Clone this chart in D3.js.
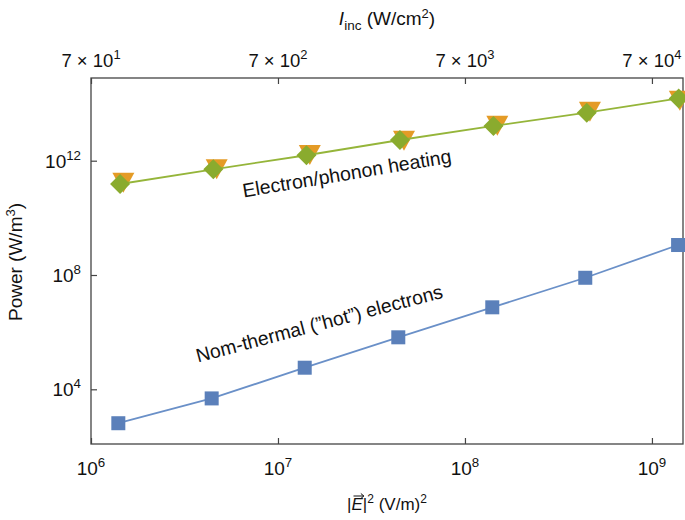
<!DOCTYPE html>
<html>
<head>
<meta charset="utf-8">
<script src="https://cdn.jsdelivr.net/npm/d3@7"></script>
<style>
  html, body { margin: 0; padding: 0; background: #fff; }
  svg { display: block; font-family: "Liberation Sans", Arial, Helvetica, sans-serif; }
</style>
</head>
<body>
<svg id="chart" width="685" height="520"></svg>
<script>
// ---- data ----
const hotX = [1.40e6, 4.42e6, 1.39e7, 4.40e7, 1.40e8, 4.40e8, 1.38e9];
const hotY = [6.5e2, 4.8e3, 5.7e4, 6.6e5, 7.4e6, 8.0e7, 1.12e9];
const heatDiamondX = [1.43e6, 4.51e6, 1.42e7, 4.49e7, 1.42e8, 4.48e8, 1.39e9];
const heatDiamondY = [1.53e11, 5.0e11, 1.55e12, 5.3e12, 1.64e13, 4.8e13, 1.51e14];
const heatTriX = [1.49e6, 4.70e6, 1.48e7, 4.72e7, 1.49e8, 4.66e8, 1.41e9];
const heatTriY = [2.2e11, 6.5e11, 2.07e12, 6.5e12, 2.19e13, 6.8e13, 1.64e14];
const xTicks = [1e6, 1e7, 1e8, 1e9];
const xTickExp = ["6", "7", "8", "9"];
const topTicks = [7e1, 7e2, 7e3, 7e4];
const topTickExp = ["1", "2", "3", "4"];
const yTicks = [1e4, 1e8, 1e12];
const yTickExp = ["4", "8", "12"];
const xDomain = [1e6, 1.466e9];
const yDomain = [Math.pow(10, 2.086), Math.pow(10, 14.894)];
const intensityFactor = 7e-5; // I_inc = 7e-5 * |E|^2

// ---- layout ----
const W = 685, H = 520;
const m = { left: 91, right: 2, top: 78, bottom: 76 };
const svg = d3.select("#chart");
const x = d3.scaleLog().domain(xDomain).range([m.left, W - m.right]);
const xTop = d3.scaleLog().domain(xDomain.map(d => d * intensityFactor)).range([m.left, W - m.right]);
const y = d3.scaleLog().domain(yDomain).range([H - m.bottom, m.top]);

const frameColor = "#444";
const textColor = "#111";
const FS = 19;

// frame
svg.append("rect")
  .attr("x", m.left).attr("y", m.top)
  .attr("width", W - m.right - m.left).attr("height", H - m.bottom - m.top)
  .attr("fill", "none").attr("stroke", frameColor).attr("stroke-width", 1.3);

// axes (inside ticks)
const gx = svg.append("g").attr("transform", `translate(0,${H - m.bottom})`)
  .call(d3.axisBottom(x).tickValues(xTicks).tickSizeInner(-6).tickSizeOuter(0).tickFormat(""));
const gt = svg.append("g").attr("transform", `translate(0,${m.top})`)
  .call(d3.axisTop(xTop).tickValues(topTicks).tickSizeInner(-6).tickSizeOuter(0).tickFormat(""));
const gy = svg.append("g").attr("transform", `translate(${m.left},0)`)
  .call(d3.axisLeft(y).tickValues(yTicks).tickSizeInner(-6).tickSizeOuter(0).tickFormat(""));
[gx, gt, gy].forEach(g => {
  g.select(".domain").remove();
  g.selectAll(".tick line").attr("stroke", frameColor).attr("stroke-width", 1.2);
});

function powLabel(sel, base, exp, fs) {
  sel.append("tspan").text(base);
  sel.append("tspan").attr("dy", -fs * 0.42).attr("font-size", fs * 0.7).text(exp);
}

// bottom tick labels
xTicks.forEach((t, i) => {
  const tx = svg.append("text").attr("x", x(t)).attr("y", 475)
    .attr("text-anchor", "middle").attr("font-size", FS).attr("fill", textColor);
  powLabel(tx, "10", xTickExp[i], FS);
});
// top tick labels
topTicks.forEach((t, i) => {
  const tx = svg.append("text").attr("x", xTop(t)).attr("y", 67)
    .attr("text-anchor", "middle").attr("font-size", 18.5).attr("fill", textColor);
  powLabel(tx, "7 × 10", topTickExp[i], 18.5);
});
// left tick labels
yTicks.forEach((t, i) => {
  const tx = svg.append("text").attr("x", 81).attr("y", y(t) + 7)
    .attr("text-anchor", "end").attr("font-size", FS).attr("fill", textColor);
  powLabel(tx, "10", yTickExp[i], FS);
});

// axis titles
const yt = svg.append("text").attr("transform", "translate(22,262) rotate(-90)")
  .attr("text-anchor", "middle").attr("font-size", FS).attr("fill", textColor);
yt.append("tspan").text("Power (W/m");
yt.append("tspan").attr("dy", -7).attr("font-size", 13).text("3");
yt.append("tspan").attr("dy", 7).text(")");

const tt = svg.append("text").attr("x", 387).attr("y", 25)
  .attr("text-anchor", "middle").attr("font-size", FS).attr("fill", textColor);
tt.append("tspan").attr("font-style", "italic").text("I");
tt.append("tspan").attr("dy", 5).attr("font-size", 13.5).text("inc");
tt.append("tspan").attr("dy", -5).text(" (W/cm");
tt.append("tspan").attr("dy", -7).attr("font-size", 13).text("2");
tt.append("tspan").attr("dy", 7).text(")");

const bt = svg.append("text").attr("x", 387).attr("y", 510)
  .attr("text-anchor", "middle").attr("font-size", 17).attr("fill", textColor);
bt.append("tspan").text("|");
bt.append("tspan").attr("font-style", "italic").text("E");
bt.append("tspan").text("|");
bt.append("tspan").attr("dy", -7).attr("font-size", 12).text("2");
bt.append("tspan").attr("dy", 7).text(" (V/m)");
bt.append("tspan").attr("dy", -7).attr("font-size", 12).text("2");
// arrow over E
try {
  const ext = bt.node().getExtentOfChar(1);
  const ax0 = ext.x + 2, ax1 = ext.x + ext.width + 1, ay = ext.y + 1;
  svg.append("path").attr("d", `M${ax0},${ay}L${ax1},${ay}M${ax1 - 3},${ay - 2.5}L${ax1},${ay}L${ax1 - 3},${ay + 2.5}`)
    .attr("stroke", textColor).attr("stroke-width", 1).attr("fill", "none");
} catch (e) {}

// colours
const blueLine = "#6a90c8", blueFill = "#5b80ba";
const greenLine = "#95b53a", greenFill = "#8aab2e";
const orangeFill = "#e49b26";

const line = d3.line().x(d => x(d[0])).y(d => y(d[1]));

// orange triangles (down)
const triData = heatTriX.map((v, i) => [v, heatTriY[i]]);
svg.append("g").selectAll("path").data(triData).join("path")
  .attr("transform", d => `translate(${x(d[0])},${y(d[1])})`)
  .attr("d", "M-11,-6.7L11,-6.7L0,13.3Z")
  .attr("fill", orangeFill);

// green line + diamonds
const diaData = heatDiamondX.map((v, i) => [v, heatDiamondY[i]]);
svg.append("path").datum(diaData).attr("d", line)
  .attr("fill", "none").attr("stroke", greenLine).attr("stroke-width", 1.8);
svg.append("g").selectAll("path").data(diaData).join("path")
  .attr("transform", d => `translate(${x(d[0])},${y(d[1])})`)
  .attr("d", "M0,-10L10,0L0,10L-10,0Z")
  .attr("fill", greenFill);

// blue line + squares
const hotData = hotX.map((v, i) => [v, hotY[i]]);
svg.append("path").datum(hotData).attr("d", line)
  .attr("fill", "none").attr("stroke", blueLine).attr("stroke-width", 1.8);
svg.append("g").selectAll("rect").data(hotData).join("rect")
  .attr("x", d => x(d[0]) - 7).attr("y", d => y(d[1]) - 7)
  .attr("width", 14).attr("height", 14)
  .attr("fill", blueFill);

// annotations
svg.append("text").attr("transform", "translate(348,180) rotate(-9.5)")
  .attr("text-anchor", "middle").attr("font-size", 19.5).attr("fill", textColor)
  .text("Electron/phonon heating");
svg.append("text").attr("transform", "translate(321,330) rotate(-14.8)")
  .attr("text-anchor", "middle").attr("font-size", 19.4).attr("fill", textColor)
  .text("Nom-thermal (\u201Dhot\u201D) electrons");
</script>
</body>
</html>
